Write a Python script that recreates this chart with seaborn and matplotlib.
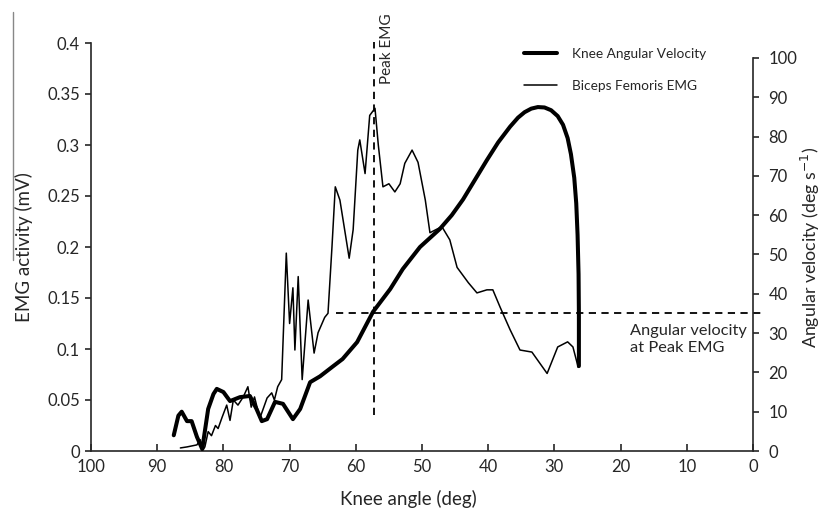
import matplotlib
matplotlib.use("Agg")
import matplotlib.pyplot as plt
import seaborn as sns
from matplotlib.lines import Line2D

# Knee angular velocity (right axis, deg/s) against knee angle (deg)
vel_angle = [87.5, 86.8, 86.3, 85.5, 84.8, 84.0, 83.2, 82.3, 81.5, 81.0, 80.0, 79.0,
             77.5, 76.0, 75.0, 74.2, 73.4, 72.2, 71.0, 70.0, 69.5, 68.4, 66.9, 65.4,
             63.4, 62.0, 59.8, 57.4, 54.8, 52.9, 50.3, 47.3, 45.5, 43.8, 42.0, 40.2,
             38.5, 36.7, 35.5, 34.5, 33.5, 32.5, 31.5, 30.5, 29.5, 28.7, 28.0, 27.5,
             27.0, 26.7, 26.5, 26.35, 26.3, 26.3]
velocity = [4.0, 9.0, 10.0, 7.6, 7.6, 3.6, 0.5, 10.7, 14.5, 15.8, 15.0, 12.7,
            13.7, 14.0, 10.7, 7.6, 8.1, 12.5, 12.0, 9.4, 8.1, 10.7, 17.5, 19.0,
            21.6, 23.4, 27.7, 35.4, 41.2, 46.3, 51.9, 56.5, 60.0, 64.0, 69.0, 74.0,
            78.5, 82.5, 84.8, 86.2, 87.1, 87.5, 87.4, 86.7, 85.2, 83.0, 79.6, 75.5,
            69.5, 63.0, 55.0, 45.0, 35.0, 21.6]

# Biceps femoris EMG (left axis, mV) against knee angle (deg)
emg_angle = [86.5, 85.5, 84.0, 83.5, 83.2, 82.8, 82.3, 81.8, 81.2, 80.8, 80.2, 79.5,
             79.0, 78.5, 77.8, 77.0, 76.3, 75.8, 75.3, 74.5, 73.4, 72.7, 72.3, 71.8,
             71.2, 70.5, 70.0, 69.5, 69.2, 68.7, 68.1, 67.2, 66.3, 65.7, 64.7, 64.2,
             63.6, 63.1, 62.4, 61.0, 60.4, 59.7, 59.4, 58.6, 57.9, 57.1, 56.6, 55.9,
             55.0, 54.1, 53.3, 52.6, 51.5, 50.6, 49.5, 48.8, 47.0, 45.8, 44.7, 43.0,
             41.7, 40.2, 39.3, 38.2, 36.7, 35.2, 33.4, 31.1, 29.5, 28.0, 27.2, 26.4]
emg = [0.003, 0.004, 0.006, 0.011, 0.000, 0.004, 0.019, 0.015, 0.025, 0.022, 0.033, 0.045,
       0.030, 0.050, 0.045, 0.053, 0.063, 0.043, 0.053, 0.032, 0.052, 0.057, 0.050, 0.063,
       0.070, 0.194, 0.125, 0.160, 0.099, 0.171, 0.070, 0.148, 0.096, 0.116, 0.131, 0.135,
       0.200, 0.259, 0.246, 0.189, 0.217, 0.295, 0.305, 0.272, 0.329, 0.336, 0.300, 0.259,
       0.262, 0.254, 0.262, 0.282, 0.295, 0.283, 0.246, 0.214, 0.220, 0.207, 0.180, 0.165,
       0.155, 0.158, 0.158, 0.141, 0.119, 0.099, 0.097, 0.076, 0.102, 0.107, 0.102, 0.082]

peak_angle = 57.2
peak_velocity = 35.0

x_ticks = [100, 90, 80, 70, 60, 50, 40, 30, 20, 10, 0]
emg_ticks = [0, 0.05, 0.1, 0.15, 0.2, 0.25, 0.3, 0.35, 0.4]
emg_tick_labels = ["0", "0.05", "0.1", "0.15", "0.2", "0.25", "0.3", "0.35", "0.4"]
vel_ticks = [0, 10, 20, 30, 40, 50, 60, 70, 80, 90, 100]

sns.set_style("ticks")
plt.rcParams["font.family"] = ["Lato", "DejaVu Sans"]

fig = plt.figure(figsize=(8.24, 5.09), dpi=100)
ax = fig.add_axes([91 / 824, 1 - 451 / 509, (753 - 91) / 824, (451 - 43) / 509])
ax2 = ax.twinx()

sns.lineplot(x=vel_angle, y=velocity, ax=ax2, sort=False, estimator=None,
             color="black", linewidth=2.9, legend=False)
sns.lineplot(x=emg_angle, y=emg, ax=ax, sort=False, estimator=None,
             color="black", linewidth=1.1, legend=False)

# peak EMG markers
ax.plot([peak_angle, peak_angle], [0.035, 0.401], ls=(0, (4, 3)), color="black",
        lw=1.3, clip_on=False)
ax2.plot([63.0, -1.5], [peak_velocity, peak_velocity], ls=(0, (4, 3)), color="black",
         lw=1.3, clip_on=False)
ax.text(55.3, 0.394, "Peak EMG", rotation=90, ha="center", va="center",
        fontsize=11, clip_on=False)
ax2.text(18.6, 28.4, "Angular velocity\nat Peak EMG", ha="left", va="center",
         fontsize=11.8, linespacing=1.3)

ax.set_xlim(100, 0)
ax.set_ylim(0, 0.4)
ax2.set_ylim(0, 103.8)
ax.set_xticks(x_ticks)
ax.set_yticks(emg_ticks)
ax.set_yticklabels(emg_tick_labels)
ax2.set_yticks(vel_ticks)

for a in (ax, ax2):
    a.spines["top"].set_visible(False)
    for s in a.spines.values():
        s.set_linewidth(1.2)
ax.spines["right"].set_visible(False)
ax2.spines["left"].set_visible(False)
ax2.spines["bottom"].set_visible(False)
ax2.spines["right"].set_bounds(0, 100)

ax.tick_params(axis="x", direction="in", length=5, width=1.2, labelsize=12, pad=6)
ax.tick_params(axis="y", direction="out", length=4, width=1.2, labelsize=12, pad=4)
ax2.tick_params(axis="y", direction="out", length=4, width=1.2, labelsize=12, pad=7)

ax.set_xlabel("Knee angle (deg)", fontsize=13.5, labelpad=5)
ax.xaxis.set_label_coords(0.48, -0.095)
ax.set_ylabel("EMG activity (mV)", fontsize=13.5, labelpad=10)
ax2.set_ylabel("Angular velocity (deg s$^{-1}$)", fontsize=12.8, labelpad=1)

handles = [Line2D([], [], color="black", lw=2.9), Line2D([], [], color="black", lw=1.1)]
fig.legend(handles, ["Knee Angular Velocity", "Biceps Femoris EMG"],
           loc="upper left", bbox_to_anchor=(524 / 824, 1 - 48 / 509),
           frameon=False, fontsize=9.8, handlelength=2.4, handletextpad=1.1,
           labelspacing=1.45, borderpad=0, borderaxespad=0)

# thin grey rule at the left edge of the original figure
fig.add_artist(Line2D([13 / 824, 13 / 824], [1 - 12 / 509, 1 - 260 / 509],
                      color="#888888", lw=1))

fig.savefig("out.png", dpi=100)
